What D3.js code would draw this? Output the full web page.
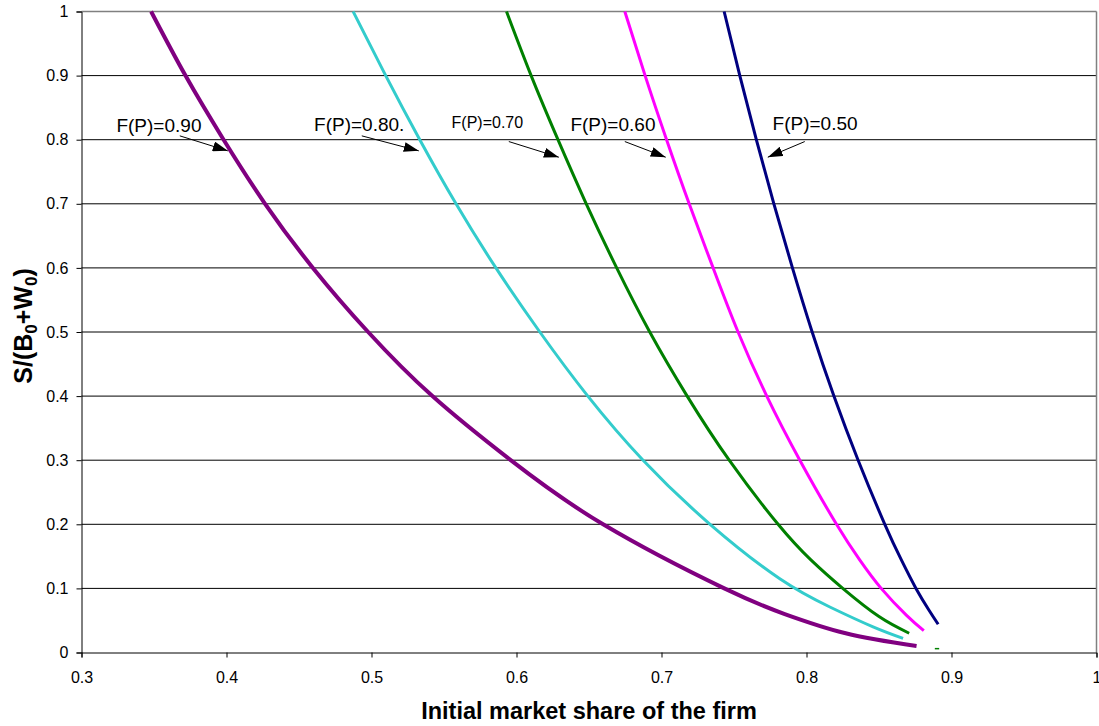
<!DOCTYPE html>
<html>
<head>
<meta charset="utf-8">
<script src="https://cdn.jsdelivr.net/npm/d3@7/dist/d3.min.js"></script>
<style>
  html, body { margin: 0; padding: 0; background: #fff; }
  svg { display: block; font-family: "Liberation Sans", Arial, sans-serif; }
</style>
</head>
<body>
<svg id="chart" width="1099" height="726"></svg>
<script>
// ---- data ----
const xTicks = [0.3, 0.4, 0.5, 0.6, 0.7, 0.8, 0.9, 1];
const yTicks = [0, 0.1, 0.2, 0.3, 0.4, 0.5, 0.6, 0.7, 0.8, 0.9, 1];

const seriesNames = ["F(P)=0.90", "F(P)=0.80", "F(P)=0.70", "F(P)=0.60", "F(P)=0.50"];
const seriesColors = ["#800080", "#33CCCC", "#008000", "#FF00FF", "#000080"];

const fp90 = [[0.348,1.0],[0.3717,0.9],[0.398,0.8],[0.4266,0.7],[0.4596,0.6],[0.4977,0.5],[0.542,0.4],[0.596,0.3],[0.6597,0.2],[0.7433,0.1],[0.785,0.06],[0.827,0.03],[0.8759,0.01]];
const fp80 = [[0.4873,1.0],[0.5098,0.9],[0.5333,0.8],[0.5583,0.7],[0.5858,0.6],[0.6161,0.5],[0.6492,0.4],[0.6873,0.3],[0.7335,0.2],[0.7816,0.115],[0.8161,0.071],[0.8459,0.04],[0.8666,0.022]];
const fp70 = [[0.5931,1.0],[0.6101,0.9],[0.6286,0.8],[0.6481,0.7],[0.6691,0.6],[0.6919,0.5],[0.7177,0.4],[0.7467,0.3],[0.7804,0.2],[0.8032,0.144],[0.825,0.1],[0.85,0.056],[0.8708,0.03]];
const fp70tail = [[0.8885,0.006],[0.8915,0.006]];
const fp60 = [[0.6747,1.0],[0.6887,0.9],[0.7035,0.8],[0.7191,0.7],[0.7356,0.6],[0.7528,0.5],[0.7726,0.4],[0.7954,0.3],[0.8207,0.2],[0.8368,0.144],[0.8515,0.1],[0.869,0.058],[0.8809,0.034]];
const fp50 = [[0.7432,1.0],[0.754,0.9],[0.7654,0.8],[0.7775,0.7],[0.7903,0.6],[0.8039,0.5],[0.8189,0.4],[0.8356,0.3],[0.854,0.2],[0.8655,0.144],[0.8755,0.1],[0.8845,0.066],[0.8908,0.044]];

// annotation labels: text, label anchor (data units), arrow start/end (data units)
const annLabels = ["F(P)=0.90", "F(P)=0.80.", "F(P)=0.70", "F(P)=0.60", "F(P)=0.50"];
const annText = [[0.3241,0.8127],[0.4604,0.8138],[0.5552,0.818],[0.6372,0.8142],[0.7766,0.8153]];
const annFrom = [[0.3678,0.806],[0.4933,0.806],[0.5947,0.7971],[0.6747,0.7971],[0.7988,0.7971]];
const annTo = [[0.4009,0.7826],[0.5326,0.7826],[0.6292,0.7727],[0.7029,0.7727],[0.7733,0.7727]];

// ---- drawing ----
const svg = d3.select("#chart");
const x = d3.scaleLinear().domain([0.3, 1]).range([81.5, 1096.5]);
const y = d3.scaleLinear().domain([0, 1]).range([652.5, 11.5]);

// gridlines
svg.append("g").selectAll("line").data(yTicks.filter(t => t > 0 && t < 1)).join("line")
  .attr("x1", x(0.3)).attr("x2", x(1)).attr("y1", d => y(d)).attr("y2", d => y(d))
  .attr("stroke", "#000").attr("stroke-width", 1);

// plot border (top and right)
svg.append("line").attr("x1", x(0.3)).attr("x2", x(1)).attr("y1", y(1)).attr("y2", y(1))
  .attr("stroke", "#808080").attr("stroke-width", 1.5);
svg.append("line").attr("x1", x(1)).attr("x2", x(1)).attr("y1", y(1)).attr("y2", y(0))
  .attr("stroke", "#808080").attr("stroke-width", 1.5);

// axes
const fmt = d => String(+d.toFixed(1));
const xAxis = d3.axisBottom(x).tickValues(xTicks).tickSize(5).tickPadding(14).tickFormat(fmt);
const yAxis = d3.axisLeft(y).tickValues(yTicks).tickSize(5).tickPadding(8).tickFormat(fmt);

const gx = svg.append("g").attr("transform", `translate(0,${y(0)})`).call(xAxis);
const gy = svg.append("g").attr("transform", `translate(${x(0.3)},0)`).call(yAxis);
[gx, gy].forEach(g => {
  g.attr("font-size", null).attr("font-family", null);
  g.select(".domain").attr("stroke", "#000");
  g.selectAll(".tick line").attr("stroke", "#000");
  g.selectAll(".tick text").attr("fill", "#000").style("font-size", "16px")
    .style("font-family", "'Liberation Sans', Arial, sans-serif");
});
gx.selectAll(".tick text").attr("dy", "0.71em");

// curves
const line = d3.line().x(d => x(d[0])).y(d => y(d[1])).curve(d3.curveNatural);
const allSeries = [fp90, fp80, fp70, fp60, fp50];
const widths = [4, 3, 3, 3, 3];
svg.append("g").selectAll("path").data(allSeries).join("path")
  .attr("d", line).attr("fill", "none")
  .attr("stroke", (d, i) => seriesColors[i])
  .attr("stroke-width", (d, i) => widths[i]);
svg.append("path").datum(fp70tail).attr("d", line).attr("fill", "none")
  .attr("stroke", seriesColors[2]).attr("stroke-width", 1.5);

// arrow marker
svg.append("defs").append("marker").attr("id", "arr")
  .attr("markerUnits", "userSpaceOnUse").attr("viewBox", "0 0 15 10")
  .attr("markerWidth", 15).attr("markerHeight", 10).attr("refX", 15).attr("refY", 5)
  .attr("orient", "auto")
  .append("path").attr("d", "M0,0 L15,5 L0,10 Z").attr("fill", "#000");

const ann = svg.append("g");
annLabels.forEach((t, i) => {
  ann.append("text").attr("x", x(annText[i][0])).attr("y", y(annText[i][1]))
    .attr("font-size", i === 2 ? 16 : 19).attr("fill", "#000").text(t);
  ann.append("line").attr("x1", x(annFrom[i][0])).attr("y1", y(annFrom[i][1]))
    .attr("x2", x(annTo[i][0])).attr("y2", y(annTo[i][1]))
    .attr("stroke", "#000").attr("stroke-width", 1).attr("marker-end", "url(#arr)");
});

// axis titles
svg.append("text").attr("x", 589).attr("y", 719).attr("text-anchor", "middle")
  .attr("font-weight", "bold").attr("font-size", 23.5).attr("fill", "#000")
  .text("Initial market share of the firm");

const yt = svg.append("text").attr("transform", "translate(32,326) rotate(-90)")
  .attr("text-anchor", "middle").attr("font-weight", "bold").attr("font-size", 25).attr("fill", "#000");
yt.append("tspan").text("S/(B");
yt.append("tspan").attr("font-size", 17).attr("dy", 5).text("0");
yt.append("tspan").attr("dy", -5).text("+W");
yt.append("tspan").attr("font-size", 17).attr("dy", 5).text("0");
yt.append("tspan").attr("dy", -5).text(")");
</script>
</body>
</html>
